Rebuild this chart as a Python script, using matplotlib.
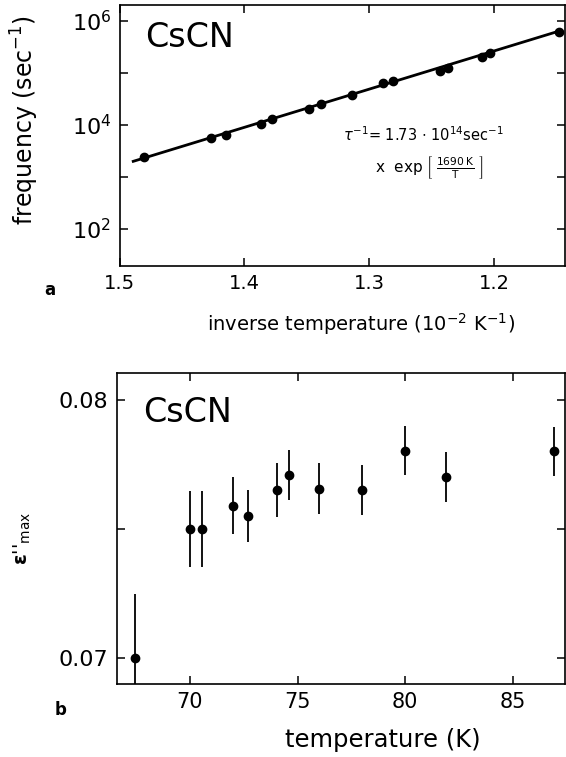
import matplotlib
matplotlib.use("Agg")
import matplotlib.pyplot as plt
from matplotlib.ticker import FixedLocator, FixedFormatter, NullLocator, NullFormatter

plt.rcParams['font.family'] = ['DejaVu Sans']
plt.rcParams['mathtext.fontset'] = 'dejavusans'

# ---- panel a data: inverse temperature (1e-2 1/K) vs relaxation frequency (1/s)
inv_T = [1.480, 1.427, 1.415, 1.387, 1.378, 1.348, 1.339, 1.314, 1.289,
         1.281, 1.243, 1.237, 1.210, 1.203, 1.148]
freq = [2.45e3, 5.7e3, 6.5e3, 1.05e4, 1.3e4, 2.05e4, 2.5e4, 3.8e4, 6.3e4,
        6.9e4, 1.1e5, 1.26e5, 2.0e5, 2.45e5, 6.2e5]
fit_x = [1.489, 1.148]
fit_y = [2.0e3, 6.4e5]

# ---- panel b data: temperature (K) vs eps''_max
temp = [67.45, 70.0, 70.57, 72.02, 72.7, 74.03, 74.58, 76.0, 78.0, 80.0, 81.9, 86.9]
eps = [0.0700, 0.0750, 0.0750, 0.0759, 0.0755, 0.07652, 0.0771, 0.07657,
       0.0765, 0.07804, 0.07702, 0.07801]
eps_err = [0.0025, 0.00146, 0.00146, 0.0011, 0.001, 0.00105, 0.00097, 0.001,
           0.00097, 0.00095, 0.00097, 0.00095]

W, H = 566, 757
fig = plt.figure(figsize=(W / 100, H / 100), dpi=100)

def px_axes(l, t, r, b):
    return fig.add_axes([l / W, 1 - b / H, (r - l) / W, (b - t) / H])

def ftext(x, y, s, **kw):
    return fig.text(x / W, 1 - y / H, s, **kw)

def style(ax):
    for s in ax.spines.values():
        s.set_linewidth(1.2)
    ax.tick_params(which='both', direction='in', top=True, right=True,
                   length=6, width=1.1, pad=6)

# ---------------- panel a
ax1 = px_axes(119.5, 5, 565, 266)
ax1.set_yscale('log')
ax1.plot(fit_x, fit_y, color='black', lw=2.0, zorder=2)
ax1.plot(inv_T, freq, 'o', color='black', ms=6, zorder=3)
ax1.set_xlim(1.5, 1.1432)
ax1.set_ylim(10 ** 1.288, 10 ** 6.308)
ax1.xaxis.set_major_locator(FixedLocator([1.5, 1.4, 1.3, 1.2]))
ax1.xaxis.set_major_formatter(FixedFormatter(['1.5', '1.4', '1.3', '1.2']))
ax1.yaxis.set_major_locator(FixedLocator([1e2, 1e4, 1e6]))
ax1.yaxis.set_major_formatter(FixedFormatter([r'$10^2$', r'$10^4$', r'$10^6$']))
ax1.yaxis.set_minor_locator(FixedLocator([1e3, 1e5]))
ax1.yaxis.set_minor_formatter(NullFormatter())
ax1.xaxis.set_minor_locator(NullLocator())
style(ax1)
ax1.tick_params(axis='y', labelsize=16)
ax1.tick_params(axis='x', labelsize=14)
ax1.text(0.057, 0.877, 'CsCN', transform=ax1.transAxes, fontsize=24,
         va='center', ha='left')
ax1.text(0.502, 0.502, r'$\tau^{-1}$= 1.73 $\cdot$ 10$^{14}$sec$^{-1}$',
         transform=ax1.transAxes, fontsize=10.5, ha='left', va='center')
ax1.text(0.573, 0.379,
         r'x  exp $\left[\;\frac{\mathrm{1690\,K}}{\mathrm{T}}\;\right]$',
         transform=ax1.transAxes, fontsize=11, ha='left', va='center')
ftext(361, 324, r'inverse temperature (10$^{-2}$ K$^{-1}$)', fontsize=14,
      ha='center', va='center')
ftext(25, 120, r'frequency (sec$^{-1}$)', fontsize=17, rotation=90,
      ha='center', va='center')
ftext(50, 290, 'a', fontsize=12, fontweight='bold', ha='center', va='center')

# ---------------- panel b
ax2 = px_axes(116.7, 373.3, 565, 684)
ax2.errorbar(temp, eps, yerr=eps_err, fmt='o', color='black', ms=6,
             elinewidth=1.3, capsize=0)
ax2.set_xlim(66.6, 87.42)
ax2.set_ylim(0.069005, 0.08103)
ax2.xaxis.set_major_locator(FixedLocator([70, 75, 80, 85]))
ax2.xaxis.set_minor_locator(NullLocator())
ax2.yaxis.set_major_locator(FixedLocator([0.07, 0.08]))
ax2.yaxis.set_major_formatter(FixedFormatter(['0.07', '0.08']))
ax2.yaxis.set_minor_locator(FixedLocator([0.075]))
ax2.yaxis.set_minor_formatter(NullFormatter())
style(ax2)
ax2.tick_params(axis='y', labelsize=16)
ax2.tick_params(axis='x', labelsize=15)
ax2.text(0.059, 0.875, 'CsCN', transform=ax2.transAxes, fontsize=24,
         va='center', ha='left')
ftext(383, 740, 'temperature (K)', fontsize=17.5, ha='center', va='center')
ftext(22, 538, r"$\mathbf{\varepsilon}$''$_{\mathrm{max}}$", fontsize=14,
      rotation=90, ha='center', va='center')
ftext(61, 710, 'b', fontsize=12, fontweight='bold', ha='center', va='center')

fig.savefig('out.png', dpi=100)
